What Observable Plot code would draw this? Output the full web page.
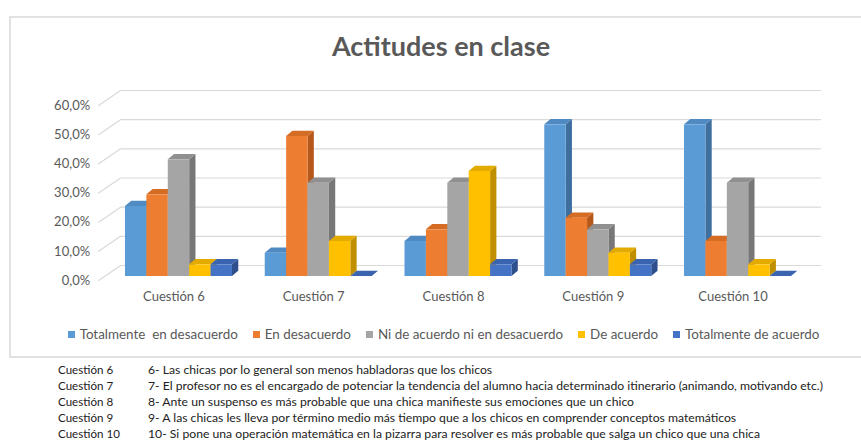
<!DOCTYPE html>
<html><head><meta charset="utf-8">
<script src="https://cdn.jsdelivr.net/npm/d3@7"></script>
<script src="https://cdn.jsdelivr.net/npm/@observablehq/plot@0.6"></script>
<style>
body{margin:0;width:861px;height:440px;position:relative;background:#fff;font-family:Lato,"Open Sans",sans-serif;overflow:hidden}
#box{position:absolute;left:9px;top:16px;width:870px;height:342px;border:2px solid #e2e2e2;box-sizing:border-box}
#title{position:absolute;left:0;top:30px;width:882px;text-align:center;font-weight:bold;font-size:27px;color:#595959;line-height:32px}
#chart{position:absolute;left:0;top:0}
#legend{position:absolute;top:325px;left:0;width:887px;display:flex;justify-content:center;font-size:13.4px;color:#595959;line-height:18px}
#legend .it{display:flex;align-items:center;margin-right:15px}
#legend .it:last-child{margin-right:0}
#legend .sw{width:7px;height:7px;margin-right:5px}
#notes{position:absolute;top:362px;left:58px;font-size:12.2px;color:#222;line-height:16px}
#notes .row{display:flex}
#notes .c{width:90px;font-size:11.6px}
</style></head>
<body>
<div id="box"></div>
<div id="title">Actitudes en clase</div>
<div id="chart"></div>
<div id="legend"></div>
<div id="notes"></div>
<script>
const categories = ["Cuestión 6","Cuestión 7","Cuestión 8","Cuestión 9","Cuestión 10"];
const seriesNames = ["Totalmente  en desacuerdo","En desacuerdo","Ni de acuerdo ni en desacuerdo","De acuerdo","Totalmente de acuerdo"];
const totalmenteDesacuerdo = [0.24,0.08,0.12,0.52,0.52];
const enDesacuerdo = [0.28,0.48,0.16,0.20,0.12];
const niAcuerdoNiDesacuerdo = [0.40,0.32,0.32,0.16,0.32];
const deAcuerdo = [0.04,0.12,0.36,0.08,0.04];
const totalmenteAcuerdo = [0.04,0.00,0.04,0.04,0.00];
const yTicks = [0,0.1,0.2,0.3,0.4,0.5,0.6];
const notes = [
  "6- Las chicas por lo general son menos habladoras que los chicos",
  "7- El profesor no es el encargado de potenciar la tendencia del alumno hacia determinado itinerario (animando, motivando etc.)",
  "8- Ante un suspenso es más probable que una chica manifieste sus emociones que un chico",
  "9- A las chicas les lleva por término medio más tiempo que a los chicos en comprender conceptos matemáticos",
  "10- Si pone una operación matemática en la pizarra para resolver es más probable que salga un chico que una chica"
];

const seriesValues = [totalmenteDesacuerdo,enDesacuerdo,niAcuerdoNiDesacuerdo,deAcuerdo,totalmenteAcuerdo];
const frontColors = ["#5B9BD5","#ED7D31","#A5A5A5","#FFC000","#4472C4"];
const topColors   = ["#4F8AC2","#D46C24","#909090","#E3AA00","#3A64B0"];
const sideColors  = ["#3E6F9E","#B5581A","#777777","#BF8F00","#2E4F8C"];

// geometry helpers (data units)
const W = 0.1531;   // bar width in category units
const D = 0.045;    // depth in x
const E = 0.018;    // depth in y
const GD = 0.157, GE = 0.0514; // back wall offsets

const fronts = [], tops = [], sides = [];
categories.forEach((c, i) => {
  seriesValues.forEach((vals, s) => {
    const v = vals[i];
    const x1 = i + (s - 2.5) * W, x2 = x1 + W;
    const id = c + "|" + s;
    fronts.push({id, s, x1, x2, v});
    tops.push({id, s, x: x1, y1: v, y2: v});
    tops.push({id, s, x: x1 + D, y1: v, y2: v + E});
    tops.push({id, s, x: x2, y1: v, y2: v + E});
    tops.push({id, s, x: x2 + D, y1: v + E, y2: v + E});
    sides.push({id, s, x: x2, y1: 0, y2: v});
    sides.push({id, s, x: x2 + D, y1: E, y2: v + E});
  });
});

const xDomain = [-0.5, 4.5];
const grid = [];
yTicks.forEach(t => {
  grid.push({t, x: xDomain[0] - 0.075, y: t});
  grid.push({t, x: xDomain[0] - 0.075 + GD, y: t + GE});
  grid.push({t, x: xDomain[1] + 0.09, y: t + GE});
});

const chart = Plot.plot({
  width: 861,
  height: 310,
  marginLeft: 108.6,
  marginRight: 53.6,
  marginTop: 105,
  marginBottom: 30,
  style: {fontFamily: "Lato, 'Open Sans', sans-serif", fontSize: "13px", color: "#595959", background: "transparent"},
  x: {domain: xDomain, ticks: [0,1,2,3,4], tickFormat: i => categories[i], tickSize: 0, tickPadding: 11, label: null},
  y: {domain: [0, 0.6], ticks: yTicks, tickFormat: d => (d*100).toFixed(1).replace(".", ",") + "%", tickSize: 0, tickPadding: 19, label: null},
  marks: [
    Plot.line(grid, {x: "x", y: "y", z: "t", stroke: "#d9d9d9", strokeWidth: 1.2}),
    Plot.areaY(sides, {x: "x", y1: "y1", y2: "y2", z: "id", fill: d => sideColors[d.s], dy: -4}),
    Plot.areaY(tops, {x: "x", y1: "y1", y2: "y2", z: "id", fill: d => topColors[d.s], dy: -4}),
    Plot.rect(fronts, {x1: "x1", x2: "x2", y1: 0, y2: "v", fill: d => frontColors[d.s], dy: -4})
  ]
});
chart.querySelectorAll("g[aria-label='x-axis'] text, g[aria-label='x-axis tick label'] text").forEach(t => t.setAttribute("dx", "-5"));
document.getElementById("chart").appendChild(chart);

const lg = document.getElementById("legend");
seriesNames.forEach((n, s) => {
  const it = document.createElement("div"); it.className = "it";
  const sw = document.createElement("div"); sw.className = "sw"; sw.style.background = frontColors[s];
  const tx = document.createElement("span"); tx.textContent = n; tx.style.whiteSpace = "pre";
  it.appendChild(sw); it.appendChild(tx); lg.appendChild(it);
});

const nt = document.getElementById("notes");
notes.forEach((n, i) => {
  const r = document.createElement("div"); r.className = "row";
  const c = document.createElement("div"); c.className = "c"; c.textContent = categories[i];
  const t = document.createElement("div"); t.textContent = n;
  r.appendChild(c); r.appendChild(t); nt.appendChild(r);
});
</script>
</body></html>
